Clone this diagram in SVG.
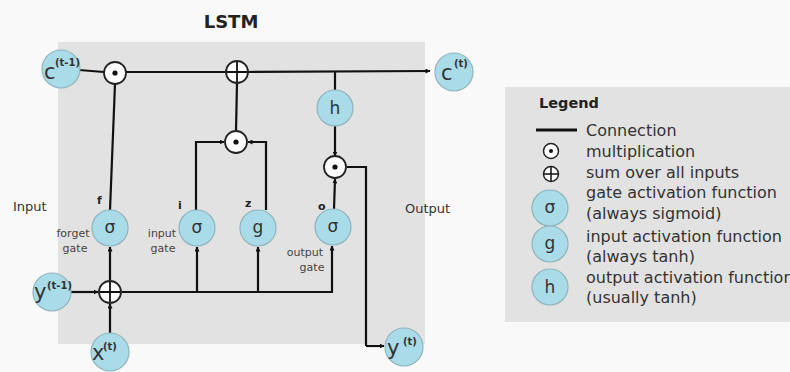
<svg xmlns="http://www.w3.org/2000/svg" width="790" height="372" viewBox="0 0 790 372">
<defs>
<marker id="ah" viewBox="0 0 10 10" refX="9" refY="5" markerWidth="5" markerHeight="5" orient="auto" markerUnits="userSpaceOnUse">
<path d="M0,0 L10,5 L0,10 z" fill="#111"/>
</marker>
<style>
text{font-family:"DejaVu Sans","Liberation Sans",sans-serif;fill:#333}
.act{fill:#a9dbe8;stroke:#8fb4bd;stroke-width:1.2}
.op{fill:#fff;stroke:#222;stroke-width:1.8}
.dot{fill:#111}
.ln{fill:none;stroke:#111;stroke-width:2.2}
.arr{fill:none;stroke:#111;stroke-width:2.2;marker-end:url(#ah)}
.sym{font-size:17px;text-anchor:middle}
.big{font-size:21px}
.sup{font-size:10px;font-weight:bold}
.lbl{font-size:11px;text-anchor:middle;fill:#444}
.gl{font-size:11px;font-weight:bold;fill:#222}
.side{font-size:13px;fill:#333}
.leg{font-size:16px;fill:#333}
</style>
</defs>
<rect x="0" y="0" width="790" height="372" fill="#f9f9f9"/>
<rect x="58" y="42" width="367" height="302" fill="#e2e2e2"/>
<rect x="505" y="87" width="285" height="235" fill="#e2e2e2"/>
<text x="231" y="28" font-size="18" font-weight="bold" text-anchor="middle" style="fill:#222">LSTM</text>
<text class="side" x="13" y="211">Input</text>
<text class="side" x="405" y="213">Output</text>

<g id="connectors">
<line class="ln" x1="79" y1="70" x2="104" y2="72"/>
<line class="ln" x1="126" y1="72" x2="226" y2="72"/>
<path class="arr" d="M248,72 L430,71"/>
<line class="ln" x1="335" y1="71" x2="335" y2="90"/>
<path class="arr" d="M335,126 L335,156"/>
<path class="ln" d="M347,167 L366,167 L366,346"/>
<path class="arr" d="M366,346 L384,346"/>
<line class="ln" x1="110" y1="210" x2="115" y2="84"/>
<line class="ln" x1="236" y1="131" x2="237" y2="83"/>
<path class="arr" d="M196,210 L196,142 L224,142"/>
<path class="arr" d="M266,210 L266,142 L248,142"/>
<path class="arr" d="M334,209 L335,179"/>
<path class="arr" d="M71,292 L98,292"/>
<path class="arr" d="M110,333 L110,304"/>
<path class="arr" d="M110,280 L110,247"/>
<line class="ln" x1="122" y1="292" x2="333" y2="292"/>
<path class="arr" d="M197,292 L197,247"/>
<path class="arr" d="M258,292 L258,247"/>
<path class="arr" d="M332,293 L332,246"/>
</g>

<g id="c_prev"><circle class="act" cx="61" cy="69" r="19"/><text class="big" x="44" y="79">c</text><text class="sup" x="55" y="66">(t-1)</text></g>
<g id="mult_f"><circle class="op" cx="115" cy="73" r="11"/><circle class="dot" cx="115" cy="73" r="2.6"/></g>
<g id="sum_c"><circle class="op" cx="237" cy="72" r="11"/><path class="ln" d="M237,62 V82 M227,72 H247" style="stroke-width:1.8"/></g>
<g id="c_t"><circle class="act" cx="454" cy="72" r="19"/><text class="big" x="441" y="80">c</text><text class="sup" x="454" y="67">(t)</text></g>
<g id="h"><circle class="act" cx="335" cy="108" r="18"/><text class="sym" x="335" y="114">h</text></g>
<g id="mult_o"><circle class="op" cx="335" cy="167" r="11"/><circle class="dot" cx="335" cy="167" r="2.6"/></g>
<g id="mult_i"><circle class="op" cx="236" cy="142" r="11"/><circle class="dot" cx="236" cy="142" r="2.6"/></g>
<g id="forget_gate"><circle class="act" cx="110" cy="228" r="18"/><text class="sym" x="110" y="233">σ</text><text class="gl" x="97" y="204">f</text><text class="lbl" x="73" y="237">forget</text><text class="lbl" x="75" y="252">gate</text></g>
<g id="input_gate"><circle class="act" cx="197" cy="228" r="18"/><text class="sym" x="197" y="233">σ</text><text class="gl" x="178" y="209">i</text><text class="lbl" x="162" y="237">input</text><text class="lbl" x="163" y="252">gate</text></g>
<g id="g"><circle class="act" cx="258" cy="228" r="18"/><text class="sym" x="258" y="233">g</text><text class="gl" x="245" y="207">z</text></g>
<g id="output_gate"><circle class="act" cx="333" cy="227" r="18"/><text class="sym" x="333" y="232">σ</text><text class="gl" x="318" y="210">o</text><text class="lbl" x="305" y="256">output</text><text class="lbl" x="312" y="271">gate</text></g>
<g id="y_prev"><circle class="act" cx="52" cy="292" r="19"/><text class="big" x="34" y="299">y</text><text class="sup" x="47" y="289">(t-1)</text></g>
<g id="sum_in"><circle class="op" cx="110" cy="292" r="11"/><path class="ln" d="M110,282 V302 M100,292 H120" style="stroke-width:1.8"/></g>
<g id="x_t"><circle class="act" cx="110" cy="352" r="19"/><text class="big" x="92" y="360">x</text><text class="sup" x="103" y="350">(t)</text></g>
<g id="y_t"><circle class="act" cx="404" cy="347" r="19"/><text class="big" x="387" y="355">y</text><text class="sup" x="403" y="345">(t)</text></g>

<g id="legend">
<text x="539" y="108" font-size="14.5" font-weight="bold" style="fill:#222">Legend</text>
<line x1="536" y1="130" x2="577" y2="130" stroke="#111" stroke-width="3"/>
<text class="leg" x="586" y="136">Connection</text>
<circle class="op" cx="551" cy="151" r="7.5" style="stroke-width:1.5"/><circle class="dot" cx="551" cy="151" r="2"/>
<text class="leg" x="586" y="157">multiplication</text>
<circle class="op" cx="551" cy="174" r="7.5" style="stroke-width:1.5"/><path d="M551,167 V181 M544,174 H558" stroke="#111" stroke-width="1.5"/>
<text class="leg" x="586" y="178">sum over all inputs</text>
<circle class="act" cx="550" cy="208" r="18"/><text class="sym" x="550" y="213">σ</text>
<text class="leg" x="586" y="198">gate activation function</text>
<text class="leg" x="586" y="219">(always sigmoid)</text>
<circle class="act" cx="550" cy="244" r="18"/><text class="sym" x="550" y="249">g</text>
<text class="leg" x="586" y="242">input activation function</text>
<text class="leg" x="586" y="262">(always tanh)</text>
<circle class="act" cx="550" cy="287" r="18"/><text class="sym" x="550" y="293">h</text>
<text class="leg" x="586" y="283">output activation function</text>
<text class="leg" x="586" y="303">(usually tanh)</text>
</g>
</svg>
